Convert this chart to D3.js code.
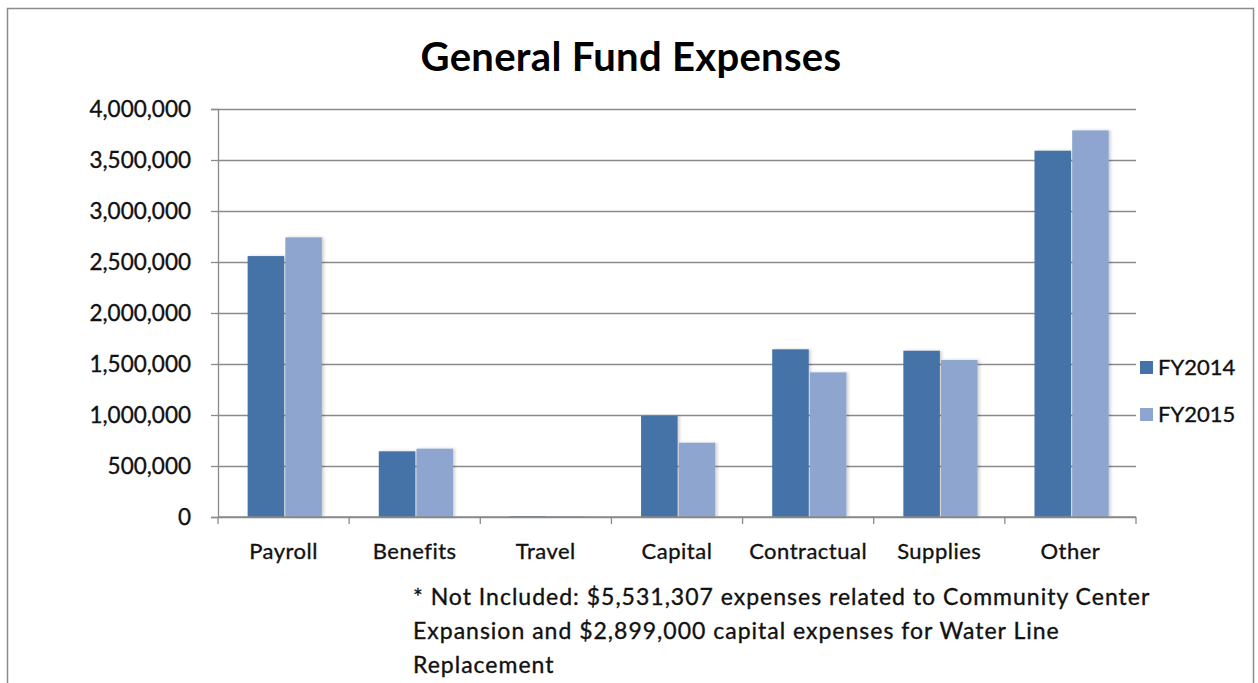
<!DOCTYPE html>
<html>
<head>
<meta charset="utf-8">
<script src="https://cdn.jsdelivr.net/npm/d3@7"></script>
<style>
  body { margin: 0; background: #fff; }
  svg { display: block; }
  .lbl { font-family: Lato, sans-serif; fill: #111; stroke: #111; stroke-width: 0.35px; }
</style>
</head>
<body>
<svg id="chart"></svg>
<script>
// data
var categories = ["Payroll", "Benefits", "Travel", "Capital", "Contractual", "Supplies", "Other"]
var seriesNames = ["FY2014", "FY2015"]
var fy2014 = [2558000, 644000, 8000, 990000, 1644000, 1630000, 3591000]
var fy2015 = [2742000, 670000, 7000, 728000, 1418000, 1539000, 3790000]
var yTicks = [0, 500000, 1000000, 1500000, 2000000, 2500000, 3000000, 3500000, 4000000]
var titleText = "General Fund Expenses"
var footnote = [
  "* Not Included: $5,531,307 expenses related to Community Center",
  "Expansion and $2,899,000 capital expenses for Water Line",
  "Replacement"
]
var colors = ["#4572A7", "#8EA6CF"]

var dimensions = {
  width: 1258,
  height: 683,
  margin: { top: 109, bottom: 166, left: 218, right: 122 }
}

var svg = d3.select("#chart")
  .attr("width", dimensions.width)
  .attr("height", dimensions.height)

// outer frame
svg.append("rect")
  .attr("x", 7.5).attr("y", 8.5)
  .attr("width", 1246).attr("height", 700)
  .attr("fill", "#fff")
  .attr("stroke", "#8c8c8c")
  .attr("stroke-width", 1.5)

var table = categories.map(function(c, i) {
  return { cat: c, values: [fy2014[i], fy2015[i]] }
})

var xScale = d3.scaleBand()
  .domain(categories)
  .range([dimensions.margin.left, dimensions.width - dimensions.margin.right])
  .padding(0)

var bw = xScale.bandwidth()
var x1 = d3.scaleBand()
  .domain(seriesNames)
  .range([bw * 0.226, bw * 0.792])
  .paddingInner(0.03)

var yScale = d3.scaleLinear()
  .domain([0, 4000000])
  .range([dimensions.height - dimensions.margin.bottom, dimensions.margin.top])

var plotLeft = dimensions.margin.left
var plotRight = dimensions.width - dimensions.margin.right
var baseY = yScale(0)

// gridlines
svg.append("g")
  .attr("transform", `translate(${plotLeft},0)`)
  .call(d3.axisLeft(yScale).tickValues(yTicks).tickSize(-(plotRight - plotLeft)).tickFormat(""))
  .call(g => g.select(".domain").remove())
  .selectAll("line")
  .attr("stroke", "#8a8a8a")
  .attr("stroke-width", 1.3)

// y axis
var yAxis = svg.append("g")
  .attr("transform", `translate(${plotLeft},0)`)
  .call(d3.axisLeft(yScale).tickValues(yTicks).tickSize(7).tickPadding(20)
    .tickFormat(d3.format(",")))
yAxis.select(".domain").attr("stroke", "#8a8a8a").attr("stroke-width", 1.3)
yAxis.selectAll("line").attr("stroke", "#8a8a8a").attr("stroke-width", 1.3)
yAxis.selectAll("text")
  .attr("class", "lbl")
  .attr("fill", null)
  .style("font-size", "22.5px")

// bar shadow filter
var defs = svg.append("defs")
var f = defs.append("filter").attr("id", "shadow").attr("x", "-20%").attr("y", "-5%").attr("width", "140%").attr("height", "110%")
f.append("feDropShadow").attr("dx", 2).attr("dy", 0).attr("stdDeviation", 1.5)
  .attr("flood-color", "#000").attr("flood-opacity", 0.18)

// bars
var groups = svg.append("g")
  .selectAll("g")
  .data(table)
  .enter()
  .append("g")
  .attr("transform", d => `translate(${xScale(d.cat)},0)`)

groups.selectAll("rect")
  .data(d => d.values.map((v, i) => ({ name: seriesNames[i], value: v, i: i })))
  .enter()
  .append("rect")
  .attr("x", d => x1(d.name))
  .attr("y", d => yScale(d.value))
  .attr("width", x1.bandwidth())
  .attr("height", d => baseY - yScale(d.value))
  .attr("fill", d => colors[d.i])
  .attr("filter", "url(#shadow)")

// x axis baseline and category ticks
svg.append("line")
  .attr("x1", plotLeft).attr("x2", plotRight)
  .attr("y1", baseY).attr("y2", baseY)
  .attr("stroke", "#8a8a8a").attr("stroke-width", 1.3)

var bounds = categories.map(c => xScale(c)).concat([plotRight])
svg.append("g")
  .selectAll("line")
  .data(bounds)
  .enter()
  .append("line")
  .attr("x1", d => d).attr("x2", d => d)
  .attr("y1", baseY).attr("y2", baseY + 7)
  .attr("stroke", "#8a8a8a").attr("stroke-width", 1.3)

svg.append("g")
  .selectAll("text")
  .data(categories)
  .enter()
  .append("text")
  .attr("class", "lbl")
  .attr("x", d => xScale(d) + bw / 2)
  .attr("y", baseY + 42)
  .attr("text-anchor", "middle")
  .style("font-size", "22px")
  .style("letter-spacing", "0.5px")
  .text(d => d)

// title
svg.append("text")
  .attr("x", 631)
  .attr("y", 71)
  .attr("text-anchor", "middle")
  .style("font-family", "Lato, sans-serif")
  .style("font-weight", "bold")
  .style("font-size", "40px")
  .style("letter-spacing", "0.3px")
  .attr("fill", "#000")
  .text(titleText)

// legend
var legend = svg.append("g")
  .selectAll("g")
  .data(seriesNames)
  .enter()
  .append("g")
  .attr("transform", (d, i) => `translate(1140,${361 + i * 47})`)

legend.append("rect")
  .attr("width", 13).attr("height", 13)
  .attr("fill", (d, i) => colors[i])

legend.append("text")
  .attr("class", "lbl")
  .attr("x", 18)
  .attr("y", 14)
  .style("font-size", "22px")
  .text(d => d)

// footnote
svg.append("g")
  .selectAll("text")
  .data(footnote)
  .enter()
  .append("text")
  .attr("class", "lbl")
  .attr("x", 413)
  .attr("y", (d, i) => 605 + i * 34)
  .style("font-size", "23px")
  .style("letter-spacing", "1px")
  .text(d => d)
</script>
</body>
</html>
